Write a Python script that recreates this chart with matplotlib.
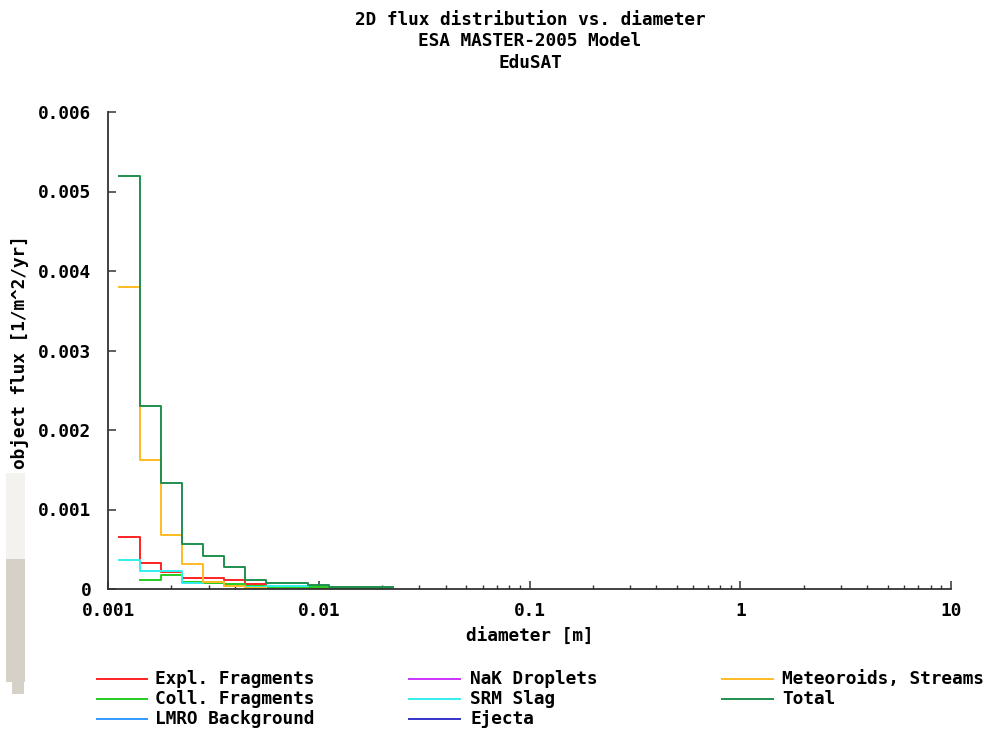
import numpy as np
import matplotlib
matplotlib.use("Agg")
import matplotlib.pyplot as plt
from matplotlib.patches import Rectangle
from matplotlib.lines import Line2D
from matplotlib.ticker import FixedLocator, NullFormatter

# ---- data (flux per diameter bin, 1/m^2/yr) --------------------------------
edges = [0.001122, 0.001413, 0.001778, 0.002239, 0.002818, 0.003548, 0.004467,
         0.005623, 0.007079, 0.008913, 0.01122, 0.01413, 0.01778, 0.02239]
nan = np.nan
expl = [0.655e-3, 0.330e-3, 0.220e-3, 0.134e-3, 0.134e-3, 0.113e-3, 0.065e-3,
        0.005e-3, 0.005e-3, 0.015e-3]
coll = [nan, 0.115e-3, 0.175e-3, 0.090e-3, 0.072e-3, 0.062e-3, 0.040e-3,
        0.030e-3, 0.030e-3, 0.025e-3, 0.012e-3, 0.012e-3, 0.012e-3]
lmro = []
nak = []
srm = [0.367e-3, 0.230e-3, 0.230e-3, 0.070e-3, 0.085e-3, 0.040e-3, 0.020e-3,
       0.035e-3, 0.035e-3]
ejecta = []
meteoroids = [3.80e-3, 1.62e-3, 0.675e-3, 0.320e-3, 0.092e-3, 0.042e-3, 0.012e-3]
total = [5.20e-3, 2.30e-3, 1.33e-3, 0.56e-3, 0.41e-3, 0.275e-3, 0.115e-3,
         0.080e-3, 0.080e-3, 0.050e-3, 0.021e-3, 0.021e-3, 0.021e-3]

series = [("Expl. Fragments", expl, "#ff2222"),
          ("Coll. Fragments", coll, "#22cc22"),
          ("LMRO Background", lmro, "#3399ff"),
          ("NaK Droplets", nak, "#cc33ff"),
          ("SRM Slag", srm, "#33eeee"),
          ("Ejecta", ejecta, "#3333cc"),
          ("Meteoroids, Streams", meteoroids, "#ffbb22"),
          ("Total", total, "#1f8f50")]

x_ticks = [0.001, 0.01, 0.1, 1, 10]
x_labels = ["0.001", "0.01", "0.1", "1", "10"]
y_ticks = [0, 0.001, 0.002, 0.003, 0.004, 0.005, 0.006]
y_labels = ["0", "0.001", "0.002", "0.003", "0.004", "0.005", "0.006"]
title_lines = ["2D flux distribution vs. diameter", "ESA MASTER-2005 Model", "EduSAT"]

FONT = dict(family="DejaVu Sans Mono", weight="bold", size=12.8)
W, H = 988, 729

fig = plt.figure(figsize=(W / 100, H / 100), dpi=100)
fig.patch.set_facecolor("white")
ax = fig.add_axes([108 / W, 1 - 589 / H, (951 - 108) / W, (589 - 112) / H])

handles = []
for name, vals, col in series:
    v = np.asarray(vals, dtype=float)
    if len(v) == 0:
        (ln,) = ax.plot([], [], color=col, lw=1.4)
    else:
        start = int(np.argmax(~np.isnan(v)))
        e = np.asarray(edges[start:len(v) + 1])
        ys = np.append(v[start:], v[-1])
        (ln,) = ax.plot(e, ys, drawstyle="steps-post", color=col, lw=1.4)
    handles.append((name, col))

ax.set_xscale("log")
ax.set_xlim(0.001, 10)
ax.set_ylim(0, 0.006)
for s in ("top", "right"):
    ax.spines[s].set_visible(False)
for s in ("left", "bottom"):
    ax.spines[s].set_color("#333333")
    ax.spines[s].set_linewidth(1.3)

ax.set_xticks(x_ticks)
ax.set_xticklabels(x_labels, fontdict=FONT)
minors = [m * 10.0 ** d for d in range(-3, 1) for m in range(2, 10)]
ax.xaxis.set_minor_locator(FixedLocator(minors))
ax.xaxis.set_minor_formatter(NullFormatter())
ax.set_yticks(y_ticks)
ax.set_yticklabels(y_labels, fontdict=FONT)
ax.tick_params(axis="both", which="major", direction="in", length=6, width=1.1,
               color="#333333", pad=9)
ax.tick_params(axis="x", which="minor", direction="in", length=3, width=1.0,
               color="#333333")
ax.tick_params(axis="y", pad=12)

fig.text(530 / W, 1 - 637 / H, "diameter [m]", ha="center", va="center", **FONT)
fig.text(20 / W, 1 - 352 / H, "object flux [1/m^2/yr]", ha="center", va="center",
         rotation=90, **FONT)
for i, line in enumerate(title_lines):
    fig.text(530 / W, 1 - (20 + 21.5 * i) / H, line, ha="center", va="center", **FONT)

# ---- legend, 3 columns laid out by hand ----
col_x = [(97, 147, 155), (409, 460, 470), (722, 773, 782)]
row_y = [679, 699, 719]
for k, (name, col) in enumerate(handles):
    x0, x1, xt = col_x[k // 3]
    y = row_y[k % 3]
    fig.add_artist(Line2D([x0 / W, x1 / W], [1 - y / H, 1 - y / H], color=col, lw=1.4,
                          transform=fig.transFigure))
    fig.text(xt / W, 1 - y / H, name, ha="left", va="center", **FONT)

# grey strip on the left edge of the screenshot
for (x, y, w, h, c) in [(6, 473, 19, 86, "#f3f2ee"), (6, 559, 19, 123, "#d5d0c8"),
                        (12, 682, 12, 12, "#d5d0c8")]:
    fig.add_artist(Rectangle((x / W, 1 - (y + h) / H), w / W, h / H, color=c, lw=0,
                             transform=fig.transFigure))

fig.savefig("out.png", dpi=100)
